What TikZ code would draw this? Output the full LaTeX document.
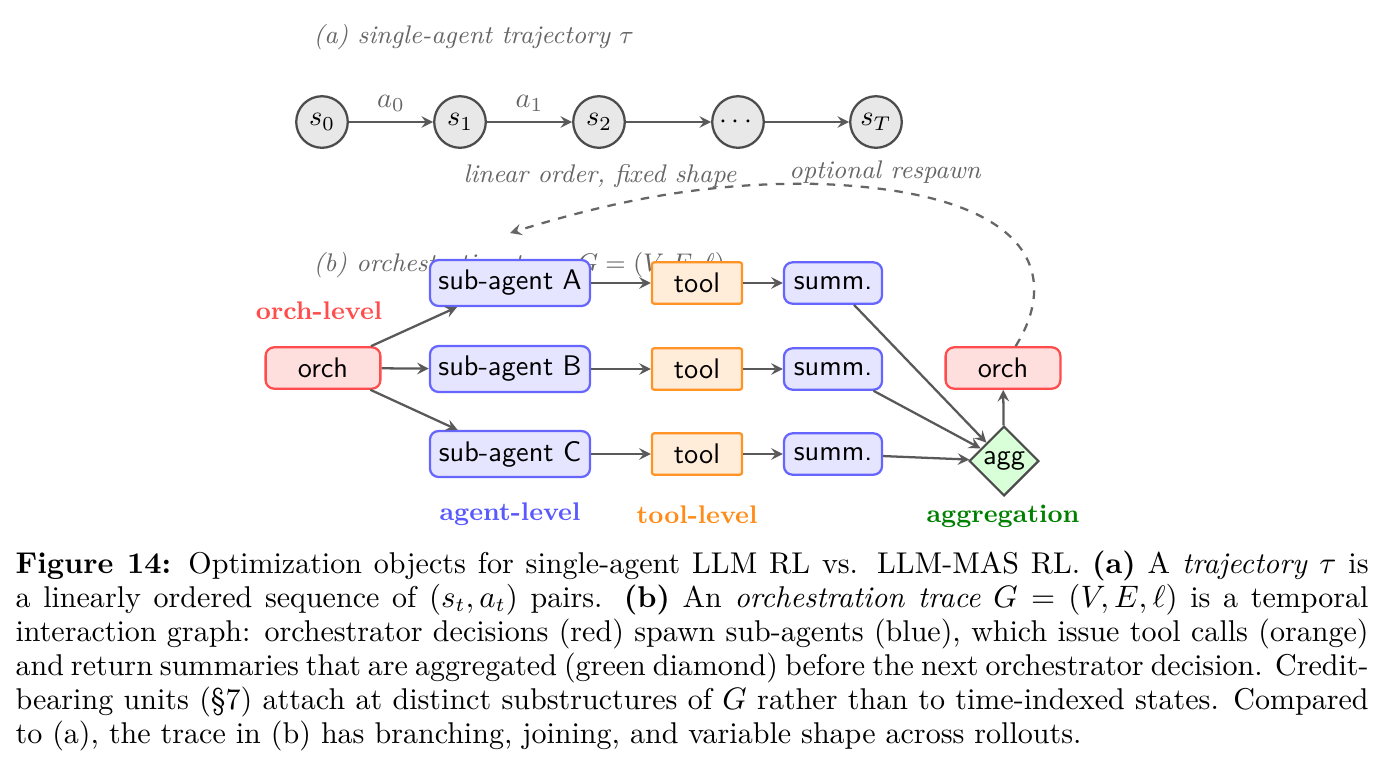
\documentclass[tikz,border=0pt]{standalone}
\usepackage{amsmath}
\usepackage{amssymb}
\usepackage{xcolor}
\usepackage{tikz}
\usetikzlibrary{shapes.geometric,arrows.meta,positioning}

\begin{document}
\begin{tikzpicture}[
  x=0.3529pt, y=-0.3529pt,
  state/.style={circle, draw=black!70, fill=black!9, thick,
                minimum size=18.2pt, inner sep=0pt},
  box/.style={rectangle, rounded corners=3pt, thick, font=\sffamily,
              minimum height=14.6pt, inner sep=2pt},
  orchbox/.style={box, draw=red!70, fill=red!13, minimum width=40.5pt},
  agentbox/.style={box, draw=blue!60, fill=blue!10,
                   minimum width=56.5pt, minimum height=16.2pt},
  toolbox/.style={box, draw=orange!85, fill=orange!15,
                  rounded corners=0.8pt, minimum width=31.8pt},
  summbox/.style={box, draw=blue!60, fill=blue!10, minimum width=34.6pt},
  aggnode/.style={diamond, draw=black!70, fill=green!15, thick,
                  font=\sffamily, inner sep=0pt, minimum size=24.6pt},
  arr/.style={->, >=stealth, thick, black!65},
  note/.style={font=\small\itshape, text=black!60},
  level/.style={font=\small\bfseries}
]
\useasboundingbox (0,0) rectangle (1384,780);

% (a) trajectory
\node[note, anchor=west, inner sep=0pt] (atitle) at (313,37) {(a) single-agent trajectory $\tau$};
\node[state] (s0) at (322,122) {$s_0$};
\node[state] (s1) at (460,122) {$s_1$};
\node[state] (s2) at (599,122) {$s_2$};
\node[state] (sd) at (738,122) {$\cdots$};
\node[state] (sT) at (876,122) {$s_T$};

\draw[arr] (s0) -- node[above, text=black!60] {$a_0$} (s1);
\draw[arr] (s1) -- node[above, text=black!60] {$a_1$} (s2);
\draw[arr] (s2) -- (sd);
\draw[arr] (sd) -- (sT);

\node[note] (lin) at (600,176) {linear order, fixed shape};

% (b) orchestration trace
\node[note, anchor=west, inner sep=0pt] (btitle) at (313,265) {(b) orchestration trace $G=(V,E,\ell)$};

\node[orchbox]  (orch)  at (323,368) {orch};
\node[agentbox] (subA)  at (510,283) {sub-agent A};
\node[agentbox] (subB)  at (510,369) {sub-agent B};
\node[agentbox] (subC)  at (510,454) {sub-agent C};
\node[toolbox]  (toolA) at (697,283) {tool};
\node[toolbox]  (toolB) at (697,369) {tool};
\node[toolbox]  (toolC) at (697,454) {tool};
\node[summbox]  (sumA)  at (833,283) {summ.};
\node[summbox]  (sumB)  at (833,369) {summ.};
\node[summbox]  (sumC)  at (833,454) {summ.};
\node[aggnode]  (agg)   at (1004,461) {agg};
\node[orchbox]  (orch2) at (1003,368) {orch};

\draw[arr] (orch) -- (subA);
\draw[arr] (orch) -- (subB);
\draw[arr] (orch) -- (subC);
\foreach \r in {A,B,C} {
  \draw[arr] (sub\r) -- (tool\r);
  \draw[arr] (tool\r) -- (sum\r);
  \draw[arr] (sum\r) -- (agg);
}
\draw[arr] (agg) -- (orch2);

% respawn
\coordinate (resp) at (510,233);
\draw[arr, dashed, black!60] (orch2.60) .. controls (1062,272) and (1030,192) .. (820,184)
  .. controls (700,181) and (600,205) .. (resp);
\node[note] (respl) at (885,172) {optional respawn};

\node[level, text=red!70]          (lorch) at (319,311)  {orch-level};
\node[level, text=blue!65]         (lagt)  at (510,514)  {agent-level};
\node[level, text=orange!90]       (ltool) at (697,515)  {tool-level};
\node[level, text=green!50!black]  (lagg)  at (1003,516) {aggregation};

% caption
\node[anchor=north west, text width=477.5pt, inner sep=0pt, align=justify,
      font=\fontsize{10.6}{12}\selectfont] (cap) at (15,550)
  {\textbf{Figure 14:} Optimization objects for single-agent LLM RL vs. LLM-MAS RL.
   \textbf{(a)} A \emph{trajectory} $\tau$ is\linebreak a linearly ordered sequence of $(s_t,a_t)$ pairs.
   \textbf{(b)} An \emph{orchestration trace} $G=(V,E,\ell)$ is a temporal\linebreak interaction graph:
   orchestrator decisions (red) spawn sub-agents (blue), which issue tool calls (orange)\linebreak and
   return summaries that are aggregated (green diamond) before the next orchestrator decision.
   Credit-\linebreak bearing units (\S7) attach at distinct substructures of $G$ rather than to
   time-indexed states. Compared\linebreak to (a), the trace in (b) has branching, joining, and variable
   shape across rollouts.};
\end{tikzpicture}
\end{document}
